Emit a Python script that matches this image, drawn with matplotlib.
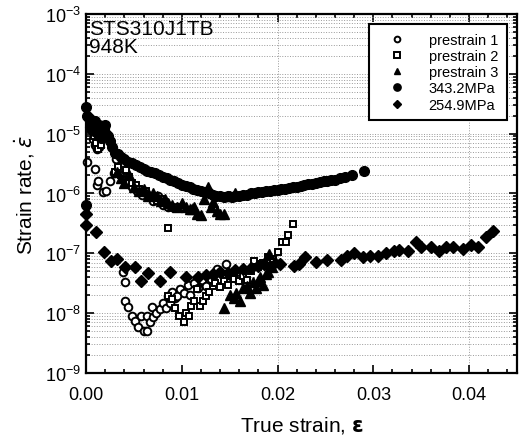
import matplotlib
matplotlib.use("Agg")
import matplotlib.pyplot as plt
from matplotlib.ticker import LogLocator, FixedLocator, MultipleLocator, FormatStrFormatter

plt.rcParams['font.family'] = ['Liberation Sans', 'DejaVu Sans']
plt.rcParams['mathtext.fontset'] = 'dejavusans'

# prestrain 1 (open circles)
p1_x = [0.0004, 0.0006, 0.0007, 0.0009, 0.0011, 0.0013, 0.0001, 0.0009, 0.0011, 0.0012,
        0.0018, 0.0021, 0.0025, 0.0029, 0.0031, 0.0040, 0.0044, 0.0048, 0.0053, 0.0058,
        0.0062, 0.0066, 0.0070, 0.0075, 0.0080, 0.0085, 0.0090, 0.0095,
        0.0039, 0.0041, 0.0041, 0.0044, 0.0048, 0.0051, 0.0054, 0.0057, 0.0060, 0.0064,
        0.0064, 0.0067, 0.0069, 0.0070, 0.0073, 0.0077, 0.0080, 0.0083, 0.0086, 0.0088,
        0.0090, 0.0093, 0.0095, 0.0098, 0.0102, 0.0106, 0.0109, 0.0113, 0.0117, 0.0121,
        0.0125, 0.0130, 0.0134, 0.0137, 0.0140, 0.0146, 0.0151, 0.0158]
p1_y = [1.5e-5, 1.1e-5, 8e-6, 6.5e-6, 5.5e-6, 6e-6, 3.4e-6, 2.6e-6, 1.4e-6, 1.6e-6,
        1.05e-6, 1.1e-6, 1.6e-6, 2.2e-6, 3.7e-6, 2.0e-6, 1.6e-6, 1.3e-6, 1.1e-6, 9.5e-7,
        1.0e-6, 9e-7, 7.5e-7, 9e-7, 6.5e-7, 6e-7, 6e-7, 5.9e-7,
        4.9e-8, 3.3e-8, 1.6e-8, 1.27e-8, 9e-9, 7.4e-9, 5.9e-9, 9e-9, 5e-9, 9e-9,
        5e-9, 7e-9, 1.27e-8, 8.6e-9, 1.0e-8, 1.17e-8, 1.5e-8, 1.2e-8, 1.9e-8, 1.5e-8,
        2.3e-8, 1.8e-8, 1.9e-8, 2.5e-8, 2.2e-8, 3.0e-8, 2.0e-8, 3.2e-8, 2.6e-8, 3.6e-8,
        2.8e-8, 3.7e-8, 4.2e-8, 5.5e-8, 3.7e-8, 6.6e-8, 4.2e-8, 3.7e-8]

# prestrain 2 (open squares)
p2_x = [0.0005, 0.0008, 0.0010, 0.0012, 0.0015, 0.0030, 0.0033, 0.0036, 0.0039, 0.0042,
        0.0045, 0.0048, 0.0052, 0.0055, 0.0059, 0.0062, 0.0066, 0.0070, 0.0074, 0.0078,
        0.0082, 0.0086,
        0.0086, 0.0090, 0.0093, 0.0097, 0.0102, 0.0104, 0.0107, 0.0110, 0.0113, 0.0116,
        0.0119, 0.0122, 0.0125, 0.0128, 0.0132, 0.0135, 0.0140, 0.0144, 0.0148, 0.0154,
        0.0160, 0.0164, 0.0168, 0.0172, 0.0175, 0.0180, 0.0185, 0.0190, 0.0195, 0.0200,
        0.0205, 0.0209, 0.0211, 0.0216]
p2_y = [1.2e-5, 9e-6, 7e-6, 5.5e-6, 6.5e-6, 2.3e-6, 2.8e-6, 2.0e-6, 1.7e-6, 2.5e-6,
        1.9e-6, 1.5e-6, 1.4e-6, 1.2e-6, 1.0e-6, 1.1e-6, 8.5e-7, 9e-7, 7.5e-7, 8e-7,
        7e-7, 2.6e-7,
        1.9e-8, 1.7e-8, 1.2e-8, 9e-9, 7.1e-9, 1.0e-8, 9e-9, 1.3e-8, 1.6e-8, 2.5e-8,
        1.3e-8, 1.6e-8, 1.9e-8, 2.3e-8, 2.8e-8, 3.2e-8, 2.7e-8, 3.4e-8, 3.0e-8, 3.7e-8,
        3.5e-8, 4.2e-8, 3.6e-8, 5.0e-8, 7.4e-8, 6.0e-8, 7.0e-8, 8.6e-8, 8.0e-8, 1.05e-7,
        1.55e-7, 1.55e-7, 2.0e-7, 3.1e-7]

# prestrain 3 (filled triangles)
p3_x = [0.0032, 0.0036, 0.0040, 0.0045, 0.0050, 0.0055, 0.0060, 0.0065, 0.0070, 0.0074,
        0.0078, 0.0082, 0.0086, 0.0090, 0.0095, 0.0100, 0.0104, 0.0108, 0.0111, 0.0113,
        0.0116, 0.0120, 0.0123, 0.0127, 0.0130, 0.0133, 0.0137, 0.0140, 0.0144, 0.0150,
        0.0155,
        0.0144, 0.0150, 0.0154, 0.0157, 0.0161, 0.0164, 0.0168, 0.0171, 0.0174, 0.0177,
        0.0180, 0.0182, 0.0185, 0.0188, 0.0190, 0.0191, 0.0194, 0.0197]
p3_y = [2.3e-6, 1.8e-6, 1.5e-6, 2.0e-6, 1.3e-6, 1.1e-6, 1.2e-6, 9e-7, 1.0e-6, 9e-7,
        7.5e-7, 8e-7, 7e-7, 6.5e-7, 6e-7, 7e-7, 6e-7, 5.5e-7, 5.5e-7, 6e-7,
        4.6e-7, 4.4e-7, 8e-7, 1.3e-6, 6e-7, 7.2e-7, 5e-7, 4.6e-7, 4.6e-7, 9e-7,
        1.0e-6,
        1.2e-8, 2.0e-8, 1.8e-8, 2.2e-8, 1.6e-8, 2.6e-8, 2.8e-8, 2.2e-8, 3.3e-8, 2.6e-8,
        3.5e-8, 4.0e-8, 3.0e-8, 4.5e-8, 4.9e-8, 9.7e-8, 6.0e-8, 7.5e-8]

# 343.2MPa (filled circles)
s1_x = [0.0000, 0.0000, 0.0001, 0.0003, 0.0005, 0.0007, 0.0009, 0.0011, 0.0013, 0.0015,
        0.0017, 0.0019, 0.0021, 0.0023, 0.0025, 0.0027, 0.0030, 0.0033, 0.0036, 0.0040,
        0.0044, 0.0048, 0.0052, 0.0056, 0.0060, 0.0064, 0.0068, 0.0072, 0.0076, 0.0080,
        0.0084, 0.0088, 0.0092, 0.0096, 0.0100, 0.0104, 0.0108, 0.0112, 0.0116, 0.0120,
        0.0124, 0.0128, 0.0132, 0.0136, 0.0140, 0.0144, 0.0148, 0.0152, 0.0156, 0.0160,
        0.0164, 0.0168, 0.0172, 0.0176, 0.0180, 0.0184, 0.0188, 0.0192, 0.0196, 0.0200,
        0.0204, 0.0208, 0.0212, 0.0216, 0.0220, 0.0224, 0.0228, 0.0232, 0.0236, 0.0240,
        0.0244, 0.0248, 0.0252, 0.0256, 0.0260, 0.0265, 0.0270, 0.0278, 0.0290,
        0.0004, 0.0008, 0.0012, 0.0016, 0.0020]
s1_y = [2.8e-5, 6.5e-7, 2.0e-5, 1.8e-5, 1.7e-5, 1.5e-5, 1.6e-5, 1.3e-5, 1.4e-5, 1.2e-5,
        1.1e-5, 1.2e-5, 1.0e-5, 9.0e-6, 7.5e-6, 6.0e-6, 4.8e-6, 4.5e-6, 4.0e-6, 3.8e-6,
        3.4e-6, 3.2e-6, 3.0e-6, 2.8e-6, 2.6e-6, 2.4e-6, 2.3e-6, 2.2e-6, 2.0e-6, 1.9e-6,
        1.8e-6, 1.7e-6, 1.6e-6, 1.5e-6, 1.4e-6, 1.35e-6, 1.3e-6, 1.2e-6, 1.15e-6, 1.1e-6,
        1.05e-6, 1.0e-6, 9.5e-7, 9.2e-7, 9.0e-7, 8.8e-7, 9.0e-7, 8.8e-7, 9.0e-7, 9.2e-7,
        9.4e-7, 9.6e-7, 1.0e-6, 1.0e-6, 1.05e-6, 1.05e-6, 1.1e-6, 1.1e-6, 1.15e-6, 1.15e-6,
        1.2e-6, 1.2e-6, 1.25e-6, 1.3e-6, 1.3e-6, 1.35e-6, 1.4e-6, 1.45e-6, 1.45e-6, 1.5e-6,
        1.55e-6, 1.6e-6, 1.6e-6, 1.65e-6, 1.7e-6, 1.8e-6, 1.9e-6, 2.05e-6, 2.4e-6,
        1.3e-5, 1.1e-5, 1.0e-5, 8.5e-6, 1.4e-5]

# 254.9MPa (filled diamonds)
s2_x = [0.0000, 0.0000, 0.0010, 0.0019, 0.0026, 0.0032, 0.0041, 0.0051, 0.0057, 0.0065,
        0.0077, 0.0088, 0.0104, 0.0117, 0.0125, 0.0132, 0.0140, 0.0148, 0.0156, 0.0164,
        0.0172, 0.0180, 0.0186, 0.0192, 0.0203, 0.0217, 0.0222, 0.0229, 0.0240,
        0.0252, 0.0266, 0.0273, 0.0280, 0.0289, 0.0296, 0.0305, 0.0313, 0.0322, 0.0327,
        0.0336, 0.0345, 0.0350, 0.0360, 0.0369, 0.0376, 0.0383, 0.0394, 0.0402, 0.0409,
        0.0418, 0.0425]
s2_y = [4.5e-7, 3.0e-7, 2.3e-7, 1.05e-7, 7.4e-8, 8.0e-8, 5.9e-8, 5.9e-8, 3.4e-8, 4.7e-8,
        3.4e-8, 4.9e-8, 4.0e-8, 4.0e-8, 4.3e-8, 4.6e-8, 4.9e-8, 4.7e-8, 5.2e-8, 5.4e-8,
        5.6e-8, 6.2e-8, 6.6e-8, 6.0e-8, 6.6e-8, 6.2e-8, 6.6e-8, 8.7e-8, 7.2e-8,
        7.8e-8, 7.8e-8, 9.0e-8, 1.0e-7, 8.6e-8, 9.0e-8, 9.0e-8, 1.0e-7, 1.1e-7, 1.13e-7,
        1.1e-7, 1.55e-7, 1.3e-7, 1.27e-7, 1.1e-7, 1.3e-7, 1.27e-7, 1.2e-7, 1.4e-7, 1.3e-7,
        1.85e-7, 2.4e-7]

x_ticks = [0.00, 0.01, 0.02, 0.03, 0.04]
y_ticks = [1e-9, 1e-8, 1e-7, 1e-6, 1e-5, 1e-4, 1e-3]
# dotted vertical guide lines
x_grid = [0.02, 0.04]

fig = plt.figure(figsize=(5.19, 4.39), dpi=100)
ax = fig.add_axes([0.166, 0.148, 0.830, 0.818])

ax.plot(p1_x, p1_y, 'o', ms=5.5, mfc='white', mec='black', mew=1.4, clip_on=False, label='prestrain 1')
ax.plot(p2_x, p2_y, 's', ms=5, mfc='white', mec='black', mew=1.4, clip_on=False, label='prestrain 2')
ax.plot(p3_x, p3_y, '^', ms=6.5, color='black', clip_on=False, label='prestrain 3')
ax.plot(s1_x, s1_y, 'o', ms=7, color='black', clip_on=False, label='343.2MPa')
ax.plot(s2_x, s2_y, 'D', ms=6, color='black', clip_on=False, label='254.9MPa')

ax.set_yscale('log')
ax.set_xlim(0, 0.045)
ax.set_ylim(1e-9, 1e-3)
ax.xaxis.set_major_locator(FixedLocator(x_ticks))
ax.xaxis.set_minor_locator(MultipleLocator(0.002))
ax.xaxis.set_major_formatter(FormatStrFormatter('%.2f'))
ax.yaxis.set_major_locator(FixedLocator(y_ticks))
ax.yaxis.set_minor_locator(LogLocator(base=10, subs=range(2, 10), numticks=10))

ax.tick_params(which='both', direction='in', top=True, right=True, labelsize=13, width=1.2)
ax.tick_params(which='major', length=6)
ax.tick_params(axis='x', pad=9)
ax.tick_params(which='minor', length=3)
for s in ax.spines.values():
    s.set_linewidth(1.6)

ax.grid(True, which='both', axis='y', color='#999999', linestyle=':', linewidth=0.7)
for xv in x_grid:
    ax.axvline(xv, color='#999999', linestyle=':', linewidth=0.7, zorder=0)
ax.set_axisbelow(True)

ax.text(0.006, 0.985, 'STS310J1TB\n948K', transform=ax.transAxes, ha='left', va='top',
        fontsize=15, linespacing=0.92)

ax.set_xlabel(r'True strain, $\boldsymbol{\varepsilon}$', fontsize=15, labelpad=8)
ax.set_ylabel(r'Strain rate, $\dot{\varepsilon}$', fontsize=15, labelpad=6)

leg = ax.legend(loc='upper right', fontsize=10.5, frameon=True, fancybox=False,
                framealpha=1, edgecolor='black', borderpad=0.6, handlelength=2.6,
                handletextpad=0.9, labelspacing=0.15, borderaxespad=0.7, markerscale=0.75)
leg.get_frame().set_linewidth(1.5)

fig.savefig('out.png', dpi=100)
